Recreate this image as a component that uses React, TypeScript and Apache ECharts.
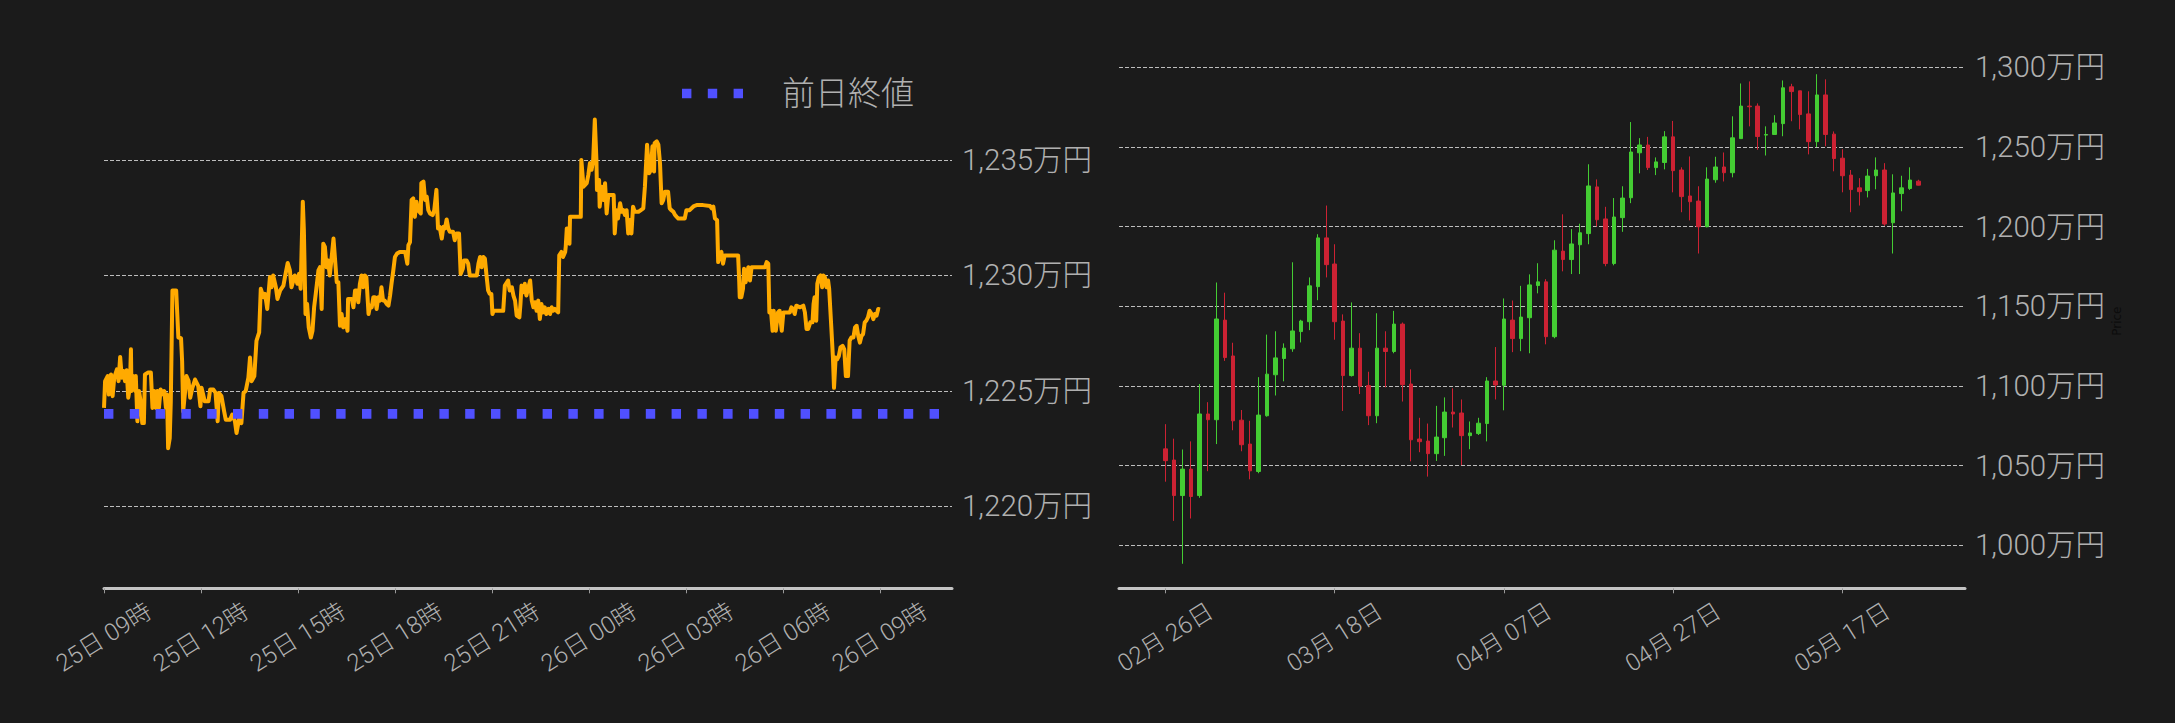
import React, { useEffect, useRef } from 'react';
import * as echarts from 'echarts';

// ---------------- Intraday (left) ----------------
// minutes since 25日 09:00
const LINE_MINUTES = [
  0, 2, 7, 9, 13, 16, 19, 24, 27, 30, 33, 36, 39, 42, 45, 48, 50, 51, 54, 58, 59, 62, 65, 68, 71, 74, 76, 82, 87, 90,
  93, 96, 99, 102, 105, 110, 112, 115, 117, 119, 122, 124, 127, 134, 138, 143, 145, 147, 150, 153, 157, 160, 164, 169,
  175, 179, 181, 187, 194, 197, 203, 207, 211, 213, 218, 223, 226, 234, 238, 243, 246, 251, 255, 259, 263, 268, 271,
  274, 279, 283, 288, 291, 296, 299, 303, 308, 311, 314, 319, 322, 327, 333, 337, 341, 345,
  348, 354, 359, 362, 365, 369, 371, 374, 377, 380, 384, 387, 390, 393, 398, 401, 404, 407, 410, 413, 416, 419, 422,
  426, 429, 432, 435, 438, 441, 444, 448, 452, 453, 460, 463, 466, 469, 472, 475, 478, 481, 484, 487, 491, 494, 497,
  500, 503, 506, 509, 512, 515, 518, 521, 525, 528, 531, 534, 537, 540, 544, 549, 559, 563, 565, 568, 571, 574, 577,
  580, 583, 588, 589, 593, 596, 599, 602, 605, 610, 613, 617, 620, 623, 627, 630, 633, 636, 639, 642, 648, 651, 654,
  659, 662, 666, 668, 673, 676, 679, 685, 692, 695, 698, 701, 704, 707, 710, 713, 716, 719, 721,
  723, 729, 741, 744, 750, 753, 757, 760, 763, 766, 771, 773, 775, 778, 781, 784, 787, 791, 794, 797, 800, 803, 806,
  809, 812, 815, 818, 821, 825, 828, 831, 834, 837, 840, 843, 845, 849, 852, 856, 857, 859, 862, 864, 865, 871, 877,
  885, 886, 890, 896, 899, 902, 905, 908, 911, 914, 915, 919, 920, 924, 927, 930, 933, 936, 942, 946, 948, 951, 954,
  958, 961, 964, 967, 970, 973, 976, 979, 982, 985, 992, 1001, 1004, 1008, 1012, 1015, 1018, 1021, 1022, 1026, 1029,
  1032, 1035, 1038, 1041, 1047, 1050, 1053, 1057, 1060, 1063, 1066, 1072, 1078, 1081, 1087, 1095,
  1100, 1112, 1125, 1128, 1131, 1134, 1138, 1140, 1143, 1146, 1149, 1152, 1155, 1177, 1179, 1180, 1183, 1186, 1188,
  1191, 1196, 1199, 1202, 1227, 1230, 1233, 1235, 1238, 1241, 1243, 1247, 1251, 1254, 1258, 1261, 1273, 1276, 1279,
  1282, 1285, 1292, 1298, 1301, 1304, 1307, 1311, 1315, 1317, 1319, 1322, 1324, 1327, 1330, 1333, 1335, 1338, 1341,
  1344, 1346, 1350, 1353, 1355, 1358, 1361, 1364, 1367, 1371, 1374, 1377, 1381, 1384, 1387, 1391, 1394, 1397, 1400,
  1403, 1406, 1409, 1412, 1415, 1418, 1421, 1425, 1428, 1431, 1434, 1437, 1440,
];
// 万円
const LINE_PRICES = [
  1224.26, 1225.42, 1225.64, 1224.84, 1225.71, 1224.77, 1225.57, 1225.93, 1225.42, 1226.47, 1225.57, 1225.86, 1225.42,
  1225.89, 1224.7, 1225.13, 1226.8, 1224.99, 1225.64, 1224.99, 1225.64, 1223.68, 1224.99, 1224.55, 1223.6, 1223.6,
  1225.71, 1225.79, 1225.79, 1224.26, 1224.99, 1224.26, 1224.99, 1224.26, 1225.06, 1224.84, 1224.99, 1224.26, 1224.84,
  1222.51, 1222.95, 1224.55, 1229.35, 1229.35, 1227.31, 1227.28, 1226.29, 1224.11, 1224.84, 1225.64, 1225.42, 1224.7,
  1225.13, 1225.49, 1225.2, 1224.33, 1225.13, 1224.55, 1224.55, 1225.06, 1225.06, 1224.91, 1223.68, 1224.91, 1224.77,
  1224.11, 1223.75, 1223.75, 1223.97, 1223.68, 1223.17, 1223.82, 1223.6, 1224.91, 1224.99, 1225.57, 1226.44, 1225.42,
  1225.64, 1227.17, 1227.53, 1229.42, 1229.06, 1229.2, 1228.55, 1229.93, 1229.49, 1230.0, 1229.49, 1228.98, 1229.35,
  1229.56, 1230.07, 1230.54, 1230.22,
  1229.49, 1230.0, 1229.64, 1230.07, 1229.42, 1233.2, 1231.96, 1228.33, 1228.76, 1227.75, 1227.31, 1227.6, 1228.62,
  1229.2, 1230.22, 1230.36, 1228.55, 1231.38, 1231.24, 1230.36, 1230.65, 1230.0, 1230.65, 1231.6, 1230.65, 1229.71,
  1229.71, 1227.82, 1228.33, 1227.75, 1228.11, 1227.6, 1228.98, 1228.98, 1228.62, 1229.35, 1229.35, 1228.84, 1229.64,
  1230.0, 1229.49, 1230.0, 1229.93, 1228.33, 1228.69, 1228.62, 1229.06, 1229.06, 1228.55, 1229.06, 1228.91, 1229.49,
  1228.91, 1228.91, 1228.76, 1228.69, 1229.13, 1229.71, 1230.22, 1230.8, 1230.95, 1231.02, 1231.02, 1230.51, 1231.31,
  1231.45, 1233.27, 1233.34, 1232.54, 1233.2, 1232.83, 1232.69, 1234.0, 1234.07, 1233.27, 1233.42, 1232.83, 1232.69,
  1232.62, 1232.83, 1233.71, 1232.04, 1232.11, 1231.6, 1232.11, 1232.04, 1232.43, 1232.04, 1231.89, 1231.89, 1231.53,
  1231.82, 1231.82, 1230.07, 1230.29, 1230.65, 1230.65, 1230.51, 1230.0, 1230.0, 1230.0, 1230.51, 1230.8, 1230.36,
  1230.8, 1230.73, 1230.0, 1229.35, 1229.2, 1229.2, 1228.33,
  1228.47, 1228.47, 1228.47, 1229.56, 1229.78, 1229.35, 1229.49, 1229.13, 1228.91, 1228.26, 1228.18, 1228.76, 1229.56,
  1229.27, 1229.64, 1229.13, 1229.42, 1229.78, 1228.91, 1228.62, 1228.84, 1228.47, 1228.91, 1228.11, 1228.76, 1228.4,
  1228.62, 1228.33, 1228.55, 1228.33, 1228.62, 1228.47, 1228.55, 1228.47, 1228.4, 1230.87, 1231.02, 1230.8, 1231.02,
  1231.24, 1232.04, 1232.04, 1231.38, 1232.54, 1232.54, 1232.54, 1232.54, 1235.01, 1233.85, 1234.0, 1234.36, 1234.87,
  1234.58, 1235.01, 1236.76, 1235.01, 1233.71, 1234.14, 1232.98, 1233.85, 1233.27, 1234.0, 1232.69, 1233.49, 1233.49,
  1233.49, 1231.82, 1232.83, 1232.47, 1233.13, 1232.76, 1232.83, 1232.62, 1232.83, 1231.82, 1232.4, 1231.82, 1232.98,
  1232.76, 1232.76, 1232.91, 1233.85, 1235.67, 1234.43, 1234.58, 1235.6, 1234.51, 1235.74, 1235.81, 1235.67, 1234.87,
  1233.13, 1233.27, 1233.63, 1233.63, 1232.91, 1232.83, 1232.76, 1232.62, 1232.54, 1232.47, 1232.47, 1232.47, 1232.83,
  1232.83, 1233.01,
  1233.05, 1233.05, 1233.01, 1232.91, 1232.98, 1232.47, 1232.4, 1230.58, 1230.95, 1231.02, 1230.51, 1230.87, 1230.87,
  1230.87, 1229.78, 1229.06, 1229.06, 1229.42, 1230.29, 1229.71, 1230.36, 1229.78, 1230.36, 1230.36, 1230.58, 1230.51,
  1228.4, 1228.47, 1227.6, 1228.47, 1227.6, 1228.4, 1228.47, 1227.6, 1228.4, 1228.4, 1228.62, 1228.55, 1228.33,
  1228.69, 1228.62, 1228.69, 1228.4, 1227.68, 1227.68, 1227.97, 1227.97, 1228.76, 1229.06, 1228.04, 1229.64, 1229.93,
  1230.0, 1229.49, 1230.0, 1229.93, 1229.49, 1229.78, 1229.42, 1227.75, 1226.44, 1225.13, 1226.44, 1226.37, 1226.51,
  1226.88, 1226.95, 1226.8, 1225.64, 1225.64, 1227.17, 1227.31, 1227.31, 1227.75, 1227.82, 1227.38, 1227.09, 1227.38,
  1227.46, 1227.97, 1228.04, 1228.18, 1228.47, 1228.33, 1228.11, 1228.33, 1228.26, 1228.55, 1228.52,
];
const PREV_CLOSE = 1224.0;
const PREV_CLOSE_NAME = '前日終値';
const INTRADAY_START_HOUR = 9; // 25日 09:00
const INTRADAY_START_DAY = 25;
const INTRADAY_MAX_MIN = 1574;
const INTRADAY_TICKS = [0, 180, 360, 540, 720, 900, 1080, 1260, 1440];
const LEFT_Y_MIN = 1216.44;
const LEFT_Y_MAX = 1239.6;

// ---------------- Daily candles (right) ----------------
const AXIS_FIRST_DATE = '2025-02-21';
const AXIS_DAY_COUNT = 100;
const CANDLE_FIRST_DATE = '02-26';
const DAILY_LABEL_DATES = ['02-26', '03-18', '04-07', '04-27', '05-17'];
const CANDLE_OPEN = [
  1060.5, 1053.5, 1031.2, 1047.8, 1031.2, 1082.4, 1078.8, 1141.3, 1118.8, 1078.5, 1063.5, 1046.3, 1081.3, 1107.0,
  1117.2, 1123.3, 1134.1, 1140.3, 1162.3, 1192.9, 1176.5, 1140.7, 1106.5, 1123.7, 1100.2, 1081.3, 1123.7, 1121.6,
  1138.8, 1101.2, 1066.7, 1065.4, 1057.5, 1067.5, 1083.6, 1083.0, 1068.8, 1070.1, 1076.4, 1103.1, 1100.4, 1141.3,
  1129.7, 1142.8, 1163.0, 1165.3, 1130.9, 1184.6, 1179.3, 1188.6, 1195.6, 1224.9, 1204.8, 1176.8, 1205.6, 1218.1,
  1246.3, 1251.2, 1237.0, 1240.2, 1256.3, 1235.5, 1219.2, 1216.0, 1199.9, 1229.4, 1237.4, 1233.8, 1255.2, 1275.6,
  1275.6, 1257.4, 1257.8, 1264.6, 1287.7, 1285.2, 1270.7, 1253.3, 1282.6, 1258.0, 1242.9, 1232.3, 1224.3, 1222.6,
  1231.9, 1235.5, 1202.4, 1220.7, 1223.9, 1228.5,
];
const CANDLE_CLOSE = [
  1053.1, 1031.2, 1047.8, 1030.6, 1082.4, 1078.8, 1142.0, 1117.8, 1078.1, 1063.1, 1046.7, 1081.7, 1107.4, 1117.6,
  1123.7, 1134.5, 1140.7, 1162.8, 1192.9, 1176.1, 1140.3, 1106.5, 1123.7, 1099.8, 1081.3, 1123.7, 1121.6, 1138.8,
  1100.8, 1066.2, 1065.0, 1057.5, 1067.9, 1083.6, 1082.4, 1068.8, 1070.5, 1076.6, 1103.1, 1100.6, 1142.0, 1129.7,
  1143.2, 1163.4, 1165.3, 1130.9, 1185.2, 1179.3, 1189.1, 1196.1, 1225.5, 1204.3, 1176.8, 1206.0, 1217.9, 1246.8,
  1251.2, 1237.0, 1240.6, 1256.3, 1235.1, 1218.8, 1215.6, 1199.9, 1229.8, 1237.4, 1233.8, 1255.7, 1275.6, 1275.2,
  1256.5, 1257.8, 1265.0, 1287.1, 1284.7, 1270.3, 1253.3, 1282.6, 1257.8, 1242.7, 1231.9, 1223.2, 1221.9, 1231.7,
  1235.5, 1201.6, 1221.1, 1224.3, 1229.2, 1226.0,
];
const CANDLE_LOW = [
  1039.9, 1015.3, 988.4, 1016.8, 1029.8, 1046.5, 1063.5, 1115.7, 1072.2, 1059.0, 1041.4, 1045.2, 1080.7, 1094.0,
  1102.9, 1121.4, 1127.3, 1135.0, 1153.8, 1168.1, 1129.0, 1084.3, 1105.9, 1094.9, 1075.4, 1076.6, 1099.1, 1120.5,
  1090.2, 1052.7, 1058.4, 1043.1, 1052.9, 1056.1, 1073.9, 1050.3, 1060.3, 1069.2, 1065.2, 1091.5, 1084.7, 1121.2,
  1121.8, 1120.5, 1158.1, 1126.1, 1129.9, 1171.9, 1170.2, 1170.2, 1188.9, 1200.1, 1175.1, 1175.7, 1196.7, 1214.7,
  1233.4, 1235.5, 1232.3, 1235.9, 1221.5, 1209.0, 1203.9, 1183.1, 1199.5, 1227.5, 1228.3, 1230.9, 1255.2, 1262.9,
  1248.2, 1244.6, 1257.8, 1256.7, 1266.1, 1261.0, 1245.3, 1249.9, 1250.4, 1234.7, 1221.5, 1209.0, 1213.2, 1218.3,
  1223.4, 1200.5, 1183.1, 1209.6, 1223.0, 1225.8,
];
const CANDLE_HIGH = [
  1076.0, 1066.9, 1060.1, 1065.2, 1101.2, 1089.8, 1164.9, 1158.5, 1127.1, 1084.9, 1078.1, 1105.5, 1132.2, 1134.3,
  1126.7, 1177.6, 1141.5, 1168.1, 1195.2, 1213.2, 1188.9, 1144.9, 1152.4, 1133.1, 1108.9, 1145.6, 1134.3, 1147.1,
  1139.8, 1110.4, 1080.0, 1076.4, 1087.5, 1092.8, 1098.5, 1091.5, 1077.7, 1080.0, 1105.5, 1124.4, 1154.9, 1153.6,
  1162.8, 1170.0, 1177.0, 1167.0, 1191.4, 1207.7, 1198.4, 1201.8, 1239.1, 1229.6, 1212.4, 1217.9, 1225.3, 1265.6,
  1255.5, 1256.3, 1243.4, 1259.9, 1266.3, 1237.2, 1244.0, 1225.3, 1237.2, 1243.8, 1246.5, 1269.2, 1289.8, 1291.1,
  1277.3, 1262.9, 1269.9, 1291.7, 1289.6, 1285.2, 1284.9, 1295.6, 1292.4, 1259.7, 1248.5, 1235.5, 1230.4, 1236.2,
  1243.4, 1239.8, 1232.8, 1231.9, 1237.2, 1229.4,
];
const RIGHT_Y_MIN = 973.0;
const RIGHT_Y_MAX = 1308.3;
const RIGHT_Y_NAME = 'Price';

// ---------------- helpers ----------------
const FONT = "Roboto, 'Noto Sans CJK JP', sans-serif";
const BG = '#1b1b1b';
const LABEL_COLOR = '#b0b0b0';
const GRID_LINE = { color: '#bdbdbd', width: 1, type: [4, 2] as number[] };
const AXIS_LINE = { color: '#c4c4c4', width: 3 };
const TICK_LINE = { color: '#9a9a9a', width: 1 };

const pad2 = (n: number) => (n < 10 ? '0' + n : '' + n);
const fmtYen = (v: number) => Math.round(v).toLocaleString('en-US') + '万円';
const fmtIntraday = (v: number) => {
  const totalMin = INTRADAY_START_HOUR * 60 + v;
  const day = INTRADAY_START_DAY + Math.floor(totalMin / 1440);
  const hour = Math.floor((totalMin % 1440) / 60);
  return `${day}日 ${pad2(hour)}時`;
};

function buildAxisDates(): string[] {
  const out: string[] = [];
  const start = new Date(AXIS_FIRST_DATE + 'T00:00:00Z').getTime();
  for (let i = 0; i < AXIS_DAY_COUNT; i++) {
    const d = new Date(start + i * 86400000);
    out.push(`${pad2(d.getUTCMonth() + 1)}-${pad2(d.getUTCDate())}`);
  }
  return out;
}

export default function App() {
  const ref = useRef<HTMLDivElement>(null);

  useEffect(() => {
    if (!ref.current) return;
    const chart = echarts.init(ref.current, undefined, { renderer: 'svg' });

    const axisDates = buildAxisDates();
    const firstIdx = axisDates.indexOf(CANDLE_FIRST_DATE);
    const candleData = axisDates.map((_, i) => {
      const k = i - firstIdx;
      if (k < 0 || k >= CANDLE_OPEN.length) return '-';
      return [CANDLE_OPEN[k], CANDLE_CLOSE[k], CANDLE_LOW[k], CANDLE_HIGH[k]];
    });
    const isLabelDay = (index: number) => DAILY_LABEL_DATES.indexOf(axisDates[index]) >= 0;

    const lineData = LINE_MINUTES.map((m, i) => [m, LINE_PRICES[i]]);

    const xLabelCommon = {
      rotate: 32,
      align: 'center',
      verticalAlign: 'middle',
      margin: 49,
      color: LABEL_COLOR,
      fontSize: 24,
      fontFamily: FONT,
      fontWeight: 300,
    };
    const yLabelCommon = {
      color: LABEL_COLOR,
      fontSize: 29.5,
      fontFamily: FONT,
      fontWeight: 300,
      margin: 10,
      showMinLabel: false,
      showMaxLabel: false,
      formatter: fmtYen,
    };

    chart.setOption({
      animation: false,
      backgroundColor: BG,
      legend: {
        data: [PREV_CLOSE_NAME],
        left: 677,
        top: 72,
        icon: 'path://M0,0h9.4v9.7h-9.4z M25.8,0h9.4v9.7h-9.4z M51.6,0h9.4v9.7h-9.4z',
        itemWidth: 61,
        itemHeight: 9.7,
        itemStyle: { borderWidth: 0 },
        selectedMode: false,
        textStyle: {
          color: LABEL_COLOR,
          fontSize: 33,
          fontFamily: FONT,
          fontWeight: 300,
          padding: [0, 0, 0, 34],
        },
      },
      grid: [
        { left: 104, right: 1223, top: 54, bottom: 134.7 },
        { left: 1119, right: 210, top: 54, bottom: 134.7 },
      ],
      xAxis: [
        {
          gridIndex: 0,
          type: 'value',
          min: 0,
          max: INTRADAY_MAX_MIN,
          interval: 180,
          axisLine: { show: true, onZero: false, lineStyle: AXIS_LINE },
          axisTick: { show: true, length: 5, lineStyle: TICK_LINE, customValues: INTRADAY_TICKS },
          axisLabel: { ...xLabelCommon, customValues: INTRADAY_TICKS, formatter: fmtIntraday },
          splitLine: { show: false },
        },
        {
          gridIndex: 1,
          type: 'category',
          data: axisDates,
          boundaryGap: true,
          axisLine: { show: true, onZero: false, lineStyle: AXIS_LINE },
          axisTick: { show: true, alignWithLabel: true, interval: isLabelDay, length: 5, lineStyle: TICK_LINE },
          axisLabel: {
            ...xLabelCommon,
            interval: isLabelDay,
            formatter: (v: string) => {
              const [mm, dd] = v.split('-');
              return `${mm}月 ${dd}日`;
            },
          },
          splitLine: { show: false },
        },
      ],
      yAxis: [
        {
          gridIndex: 0,
          type: 'value',
          position: 'right',
          min: LEFT_Y_MIN,
          max: LEFT_Y_MAX,
          minInterval: 5,
          maxInterval: 5,
          axisLine: { show: false },
          axisTick: { show: false },
          axisLabel: yLabelCommon,
          splitLine: { show: true, showMinLine: false, showMaxLine: false, lineStyle: GRID_LINE },
        },
        {
          gridIndex: 1,
          type: 'value',
          position: 'right',
          min: RIGHT_Y_MIN,
          max: RIGHT_Y_MAX,
          minInterval: 50,
          maxInterval: 50,
          name: RIGHT_Y_NAME,
          nameLocation: 'middle',
          nameRotate: 90,
          nameGap: 146,
          nameTextStyle: { color: '#0c0c0c', fontSize: 12, fontFamily: 'DejaVu Sans' },
          axisLine: { show: false },
          axisTick: { show: false },
          axisLabel: yLabelCommon,
          splitLine: { show: true, showMinLine: false, showMaxLine: false, lineStyle: GRID_LINE },
        },
      ],
      series: [
        {
          name: 'price',
          type: 'line',
          xAxisIndex: 0,
          yAxisIndex: 0,
          data: lineData,
          showSymbol: false,
          symbol: 'none',
          z: 2,
          lineStyle: { color: '#ffaa00', width: 4, join: 'round' },
          itemStyle: { color: '#ffaa00' },
          silent: true,
        },
        {
          name: PREV_CLOSE_NAME,
          type: 'line',
          xAxisIndex: 0,
          yAxisIndex: 0,
          data: [
            [0, PREV_CLOSE],
            [INTRADAY_MAX_MIN, PREV_CLOSE],
          ],
          showSymbol: false,
          symbol: 'none',
          z: 3,
          lineStyle: { color: '#5050ff', width: 9.7, type: [9.4, 16.4], cap: 'butt' },
          itemStyle: { color: '#5050ff' },
          silent: true,
        },
        {
          name: 'daily',
          type: 'candlestick',
          xAxisIndex: 1,
          yAxisIndex: 1,
          data: candleData,
          barWidth: 4,
          itemStyle: {
            color: '#44cc33',
            color0: '#cc2233',
            borderColor: '#44cc33',
            borderColor0: '#cc2233',
            borderWidth: 1,
          },
          silent: true,
        },
      ],
    });

    return () => chart.dispose();
  }, []);

  return (
    <div
      ref={ref}
      style={{ position: 'fixed', left: 0, top: 0, width: 2175, height: 723, background: BG }}
    />
  );
}
